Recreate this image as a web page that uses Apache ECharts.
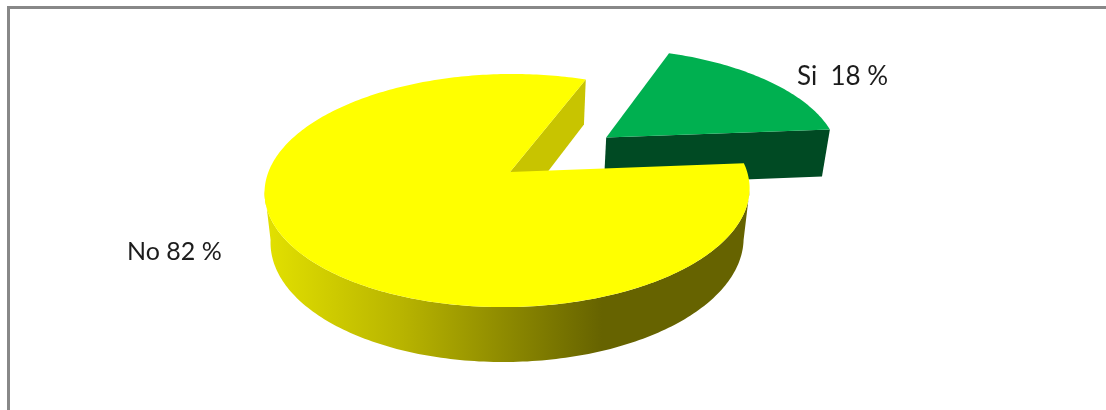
<!DOCTYPE html>
<html>
<head>
<meta charset="utf-8">
<style>html,body{margin:0;padding:0;background:#fff}#c{width:1106px;height:410px}</style>
<script src="https://cdn.jsdelivr.net/npm/echarts@6/dist/echarts.min.js"></script>
</head>
<body>
<div id="c"></div>
<script>
var categories = ['Si', 'No'];
var shares = [18, 82];
var labelTexts = ['Si  18 %', 'No 82 %'];
var sliceColors = ['#00B050', '#FFFF00'];
var wallColors = ['#004A23', '#C8C400'];

var startDeg = 4.5;
var centre = { x: 507.8, yTop: 172, yBottom: 221 };
var apexNudge = 2.2;
var shear = -4.6;
var radiusTop = { x: 239.4, y: 113.6 };
var radiusBottom = { x: 233.5, y: 118.6 };
var perspective = 0.159;
var explode = 0.532;
var silhouetteDeg = [-9, -171];
var labelPos = [[797, 77], [127, 252]];
var labelFonts = ['26px Lato', '25px Lato'];

function project(u, v, bottom) {
  var d = 1 - perspective * v;
  var r = bottom ? radiusBottom : radiusTop;
  return [centre.x + r.x * u / d + shear * v, (bottom ? centre.yBottom : centre.yTop) + r.y * v / d];
}
function apexPoint(bottom) {
  var p = project(0, 0, bottom);
  return [p[0] + apexNudge, p[1]];
}
function rimPoint(deg, o, bottom) {
  var a = deg * Math.PI / 180;
  return project(o[0] + Math.cos(a), o[1] - Math.sin(a), bottom);
}
function arc(from, to, o, bottom) {
  var pts = [], n = Math.max(2, Math.ceil(Math.abs(to - from)));
  for (var i = 0; i <= n; i++) pts.push(rimPoint(from + (to - from) * i / n, o, bottom));
  return pts;
}
function poly(points, fill, z) {
  return { type: 'polygon', z2: z, shape: { points: points }, style: { fill: fill } };
}

var sideGradient = {
  type: 'linear', x: 268, y: 0, x2: 745, y2: 0, global: true,
  colorStops: [
    { offset: 0, color: '#E2E000' },
    { offset: 0.28, color: '#B8B400' },
    { offset: 0.7, color: '#666300' },
    { offset: 1, color: '#666300' }
  ]
};

function renderSlice(params, api) {
  var i = params.dataIndex, share = api.value(0);
  var total = shares.reduce(function (s, x) { return s + x; }, 0);
  var sweep = share / total * 360;
  var children = [];
  var from = startDeg, to = i === 0 ? startDeg + sweep : startDeg - sweep;
  if (i === 0) {
    var mid = (from + to) / 2 * Math.PI / 180;
    var o = [explode * Math.cos(mid), -explode * Math.sin(mid)];
    children.push(poly([project(o[0], o[1], false), rimPoint(from, o, false), rimPoint(from, o, true), project(o[0], o[1], true)], wallColors[i], 1));
    children.push(poly([project(o[0], o[1], false)].concat(arc(from, to, o, false)), sliceColors[i], 2));
  } else {
    var c = [0, 0];
    children.push(poly([apexPoint(false), rimPoint(to, c, false), rimPoint(to, c, true), apexPoint(true)], wallColors[i], 1));
    children.push(poly(arc(silhouetteDeg[0], silhouetteDeg[1], c, false).concat(arc(silhouetteDeg[1], silhouetteDeg[0], c, true)), sideGradient, 2));
    children.push(poly([apexPoint(false)].concat(arc(from, to, c, false)), sliceColors[i], 3));
  }
  children.push({
    type: 'text', z2: 5,
    style: { x: labelPos[i][0], y: labelPos[i][1], text: labelTexts[i], fill: '#1c1c1c', font: labelFonts[i], verticalAlign: 'middle', align: 'left' }
  });
  return { type: 'group', children: children };
}

var chart = echarts.init(document.getElementById('c'));
chart.setOption({
  backgroundColor: '#ffffff',
  animation: false,
  graphic: [
    { type: 'rect', shape: { x: 7, y: 6, width: 1099, height: 3 }, style: { fill: '#888888' }, silent: true },
    { type: 'rect', shape: { x: 7, y: 6, width: 3, height: 404 }, style: { fill: '#888888' }, silent: true }
  ],
  series: [{
    type: 'custom',
    coordinateSystem: 'none',
    renderItem: renderSlice,
    data: categories.map(function (name, i) { return { name: name, value: [shares[i]] }; })
  }]
});
</script>
</body>
</html>
